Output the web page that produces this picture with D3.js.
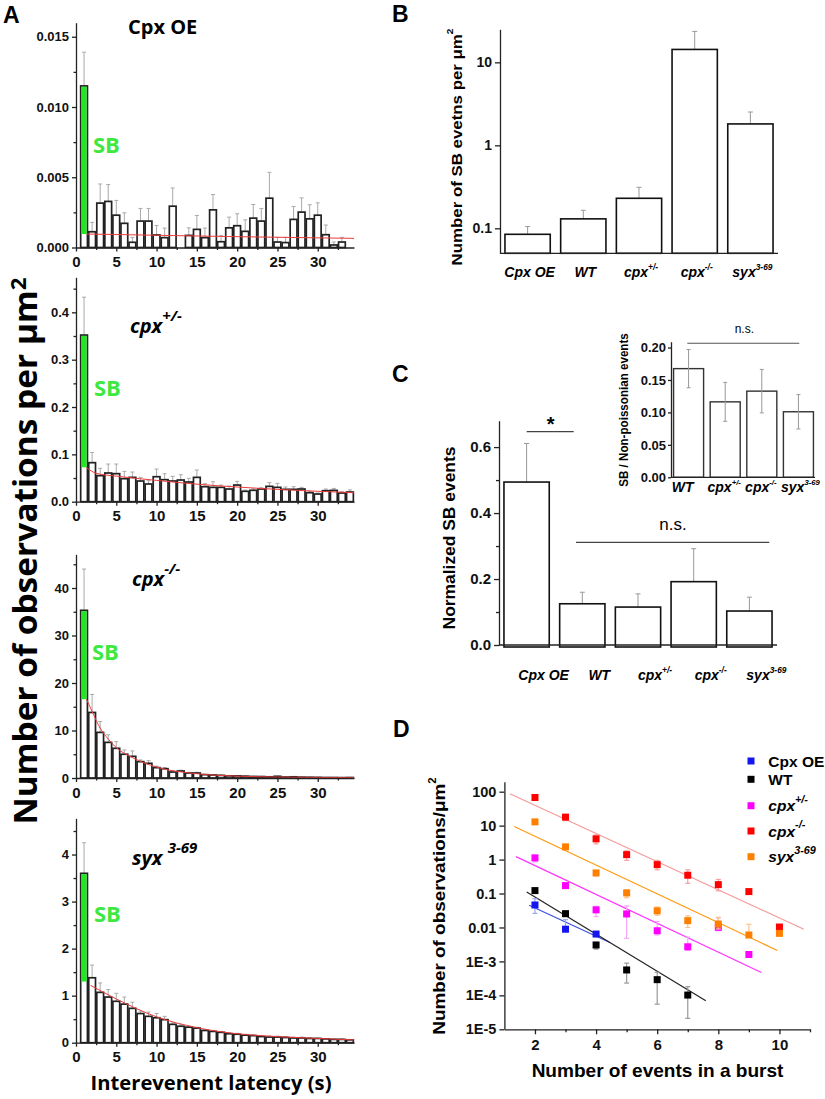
<!DOCTYPE html>
<html><head><meta charset="utf-8">
<script src="https://cdn.jsdelivr.net/npm/d3@7"></script>
<style>body{margin:0;background:#fff}</style>
</head><body><script>
// ---------------- DATA ----------------
const latency = [1,2,3,4,5,6,7,8,9,10,11,12,13,14,15,16,17,18,19,20,21,22,23,24,25,26,27,28,29,30,31,32,33,34];

const cpxOEVals = [0.0115,0.00112,0.00316,0.00328,0.0023,0.00172,0.00037,0.00188,0.00188,0.00089,0.0007,0.00294,0,0.00086,0.00129,0.0007,0.00268,0.00041,0.0014,0.00155,0.00115,0.00209,0.00188,0.00351,0.00039,0.00035,0.002,0.00252,0.00204,0.0023,0.00091,0.00018,0.00039,0];
const cpxOEErrTop = [0.0139,0.00179,0.00452,0.00448,0.00335,0.00247,0.00072,0.00278,0.00278,0.00157,0.00138,0.00424,0,0.0014,0.00228,0.00138,0.00377,0.00084,0.00216,0.0024,0.00197,0.00306,0.00278,0.00535,0.00072,0.00072,0.00292,0.00353,0.00304,0.00318,0.0016,0.00039,0.00072,0];
const cpxOEFit = [[1.3,0.00096],[10,0.00087],[20,0.00077],[34.5,0.00065]];

const cpxHetVals = [0.352,0.0824,0.055,0.0606,0.0592,0.0486,0.0514,0.0437,0.0374,0.0528,0.0465,0.0437,0.0458,0.0416,0.0514,0.0317,0.0303,0.0303,0.0268,0.0352,0.022,0.0241,0.0268,0.0324,0.0303,0.0261,0.0261,0.0268,0.019,0.0162,0.0232,0.0239,0.0183,0.0204];
const cpxHetErrTop = [0.432,0.104,0.0705,0.0796,0.0796,0.064,0.0627,0.0514,0.0444,0.069,0.0591,0.0535,0.057,0.0493,0.067,0.038,0.0422,0.0352,0.0331,0.043,0.0246,0.027,0.0296,0.0402,0.0387,0.031,0.0317,0.0303,0.0225,0.0185,0.0268,0.028,0.021,0.025];
const cpxHetFit = [[1.3,0.072],[2.5,0.06],[5,0.054],[10,0.045],[15,0.037],[20,0.031],[25,0.026],[30,0.022],[34.5,0.019]];

const cpxKOVals = [35.3,13.8,9.6,7.5,6.25,5.0,4.56,3.44,3.09,2.18,1.96,1.26,1.47,1.05,1.05,0.7,0.63,0.55,0.45,0.45,0.38,0.32,0.3,0.25,0.35,0.2,0.25,0.17,0.15,0.13,0.1,0.1,0.08,0.1];
const cpxKOErrTop = [44,17.6,11.9,9.1,7.65,5.9,5.7,3.8,3.65,2.5,2.2,1.45,1.65,1.2,1.2,0.8,0.72,0.62,0.52,0.5,0.42,0.36,0.34,0.28,0.4,0.23,0.28,0.2,0.17,0.15,0.12,0.12,0.1,0.12];
const cpxKOFit = [[1.3,16.6],[2,14],[3,10.5],[4,8.2],[5,6.4],[7,4.3],[10,2.3],[15,0.9],[20,0.4],[25,0.2],[30,0.12],[34.5,0.08]];

const syxVals = [3.6,1.38,1.07,0.97,0.88,0.82,0.73,0.62,0.56,0.53,0.49,0.39,0.35,0.33,0.31,0.26,0.24,0.22,0.19,0.18,0.16,0.15,0.13,0.12,0.12,0.11,0.1,0.1,0.09,0.09,0.08,0.07,0.07,0.06];
const syxErrTop = [4.25,1.65,1.27,1.13,1.05,0.97,0.86,0.67,0.65,0.62,0.56,0.42,0.38,0.35,0.33,0.28,0.26,0.24,0.21,0.2,0.18,0.17,0.15,0.14,0.14,0.13,0.12,0.12,0.11,0.1,0.09,0.08,0.08,0.07];
const syxFit = [[1.8,1.22],[5,0.93],[10,0.55],[15,0.32],[20,0.19],[25,0.13],[30,0.09],[34.5,0.06]];

const sbBase = [0.00096, 0.0726, 16.6, 1.3];   // white (fitted) part of the first bar
const latencyTicks = [0,5,10,15,20,25,30];
const latencyMinor = [2.5,7.5,12.5,17.5,22.5,27.5,32.5];

const genoBase = ["Cpx OE","WT","cpx","cpx","syx"];
const genoSup  = ["","","+/-","-/-","3-69"];
const genotypes = ["Cpx OE","WT","cpx+/-","cpx-/-","syx3-69"];

const sbCounts    = [0.0847,0.13,0.23,14.3,1.81];
const sbCountsErr = [0.105,0.165,0.312,23.6,2.52];
const sbTicks = [0.1,1,10];

const normSB    = [0.494,0.125,0.115,0.192,0.103];
const normSBErr = [0.611,0.16,0.155,0.292,0.145];
const normTicks = [0,0.2,0.4,0.6];
const normMinor = [0.1,0.3,0.5];

const insetGeno  = ["WT","cpx+/-","cpx-/-","syx3-69"];
const insetBase  = ["WT","cpx","cpx","syx"];
const insetSup   = ["","+/-","-/-","3-69"];
const insetRatio = [0.1675,0.1163,0.1328,0.101];
const insetErr   = [0.0295,0.030,0.0335,0.0265];
const insetTicks = [0,0.05,0.10,0.15,0.20];

const burstTicks = [2,4,6,8,10];
const obsTicks = [100,10,1,0.1,0.01,1e-3,1e-4,1e-5];
const obsTickLabels = ["100","10","1","0.1","0.01","1E-3","1E-4","1E-5"];

const dCpxOE_x = [2,3,4];
const dCpxOE_y = [0.046,0.0089,0.0064];
const dCpxOE_hi = [0.07,0.017,0.0072];
const dCpxOE_lo = [0.026,0.0075,0.0056];
const dCpxOE_fit = [[1.81,0.045],[4.45,0.0036]];

const dWT_x = [2,3,4,5,6,7];
const dWT_y = [0.122,0.0255,0.00305,0.00056,0.00029,0.000102];
const dWT_hi = [0.135,0.03,0.0036,0.00089,0.00048,0.00018];
const dWT_lo = [0.11,0.021,0.0023,0.00023,5.5e-5,2.1e-5];
const dWT_fit = [[1.73,0.111],[7.59,6.9e-5]];

const dHet_x = [2,3,4,5,6,7,8,9];
const dHet_y = [1.12,0.171,0.033,0.025,0.008,0.0027,0.0101,0.0016];
const dHet_hi = [1.35,0.19,0.042,0.043,0.015,0.0052,0.019,0.0018];
const dHet_lo = [0.85,0.15,0.021,0.0048,0.006,0.0021,0.008,0.0014];
const dHet_fit = [[1.38,1.22],[9.41,0.00047]];

const dKO_x = [2,3,4,5,6,7,8,9,10];
const dKO_y = [67.4,17.8,4.08,1.4,0.71,0.346,0.183,0.114,0.0103];
const dKO_hi = [72,20,5.3,1.8,0.95,0.5,0.26,0.12,0.011];
const dKO_lo = [60,14,2.9,0.95,0.5,0.2,0.12,0.1,0.0095];
const dKO_fit = [[1.18,86.7],[10.8,0.0089]];

const dSyx_x = [2,3,4,5,6,7,8,9,10];
const dSyx_y = [12.9,2.37,0.405,0.104,0.031,0.0159,0.0126,0.006,0.0067];
const dSyx_hi = [14,2.6,0.45,0.13,0.04,0.022,0.02,0.0124,0.0072];
const dSyx_lo = [11,2.0,0.33,0.075,0.023,0.01,0.009,0.0055,0.006];
const dSyx_fit = [[1.32,9.4],[9.93,0.0021]];

// ---------------- HELPERS ----------------
const W=825,H=1099;
const ARIAL = "'Liberation Sans', Arial, sans-serif";
const OPEN = "'Open Sans', 'Noto Sans', sans-serif";
const svg = d3.select("body").append("svg").attr("width",W).attr("height",H);

function rich(parent, x, y, base, sup, o){
  const t = parent.append("text").attr("x",x).attr("y",y)
    .attr("font-size",o.fs).attr("font-weight",o.fw||"bold")
    .attr("font-style",o.it?"italic":"normal")
    .attr("font-family",o.ff||ARIAL)
    .attr("text-anchor",o.anchor||"start").attr("fill",o.fill||"#000");
  t.append("tspan").text(base);
  if(sup){
    const rise = o.fs*(o.supRise||0.45);
    t.append("tspan").attr("dy",-rise).attr("dx",o.supDx||0)
      .attr("font-size",o.fs*(o.supScale||0.62)).text(sup);
  }
  return t;
}
function fitW(t, target){
  if(!target) return t;
  const w = t.node().getBBox().width;
  t.attr("transform",`scale(${target/w},1)`);
  return t;
}
function rotLabel(x,y,base,sup,o,target){
  const g = svg.append("g").attr("transform",`translate(${x},${y}) rotate(-90)`);
  const t = rich(g,0,0,base,sup,Object.assign({anchor:"middle"},o));
  fitW(t,target);
  return g;
}
function styleAxis(g, fs){
  g.attr("font-size",fs).attr("font-weight","bold").attr("font-family",ARIAL);
  g.select(".domain").attr("stroke","#222").attr("stroke-width",1.3);
  g.selectAll(".tick line").attr("stroke","#222").attr("stroke-width",1.3);
  g.selectAll(".tick text").attr("fill","#111");
}

// ---------------- PANEL A ----------------
const xA = d3.scaleLinear().domain([0,34.5]).range([76,354]);
const GREEN = "#22e622";
const histPanels = [
  {vals:cpxOEVals, err:cpxOEErrTop, fit:cpxOEFit, sb:sbBase[0], top:22.7, bottom:247.5, max:0.016,
   ticks:[0,0.005,0.010,0.015], minor:[0.0025,0.0075,0.0125], fmt:d3.format(".3f"),
   title:["Cpx OE",""], it:false, tpos:[128,34], sbpos:[93,153]},
  {vals:cpxHetVals, err:cpxHetErrTop, fit:cpxHetFit, sb:sbBase[1], top:277.3, bottom:501.7, max:0.474,
   ticks:[0,0.1,0.2,0.3,0.4], minor:[0.05,0.15,0.25,0.35,0.45], fmt:d3.format(".1f"),
   title:["cpx","+/-"], it:true, tpos:[130,333], sbpos:[94,396]},
  {vals:cpxKOVals, err:cpxKOErrTop, fit:cpxKOFit, sb:sbBase[2], top:554.3, bottom:778, max:47.1,
   ticks:[0,10,20,30,40], minor:[5,15,25,35,45], fmt:d3.format("d"),
   title:["cpx","-/-"], it:true, tpos:[132,586], sbpos:[92,660]},
  {vals:syxVals, err:syxErrTop, fit:syxFit, sb:sbBase[3], top:818.3, bottom:1042.7, max:4.77,
   ticks:[0,1,2,3,4], minor:[0.5,1.5,2.5,3.5,4.5], fmt:d3.format("d"),
   title:["syx ","3-69"], it:true, tpos:[132,865], sbpos:[94,922]}
];

histPanels.forEach(p=>{
  const y = d3.scaleLinear().domain([0,p.max]).range([p.bottom,p.top]);
  const g = svg.append("g");
  const bw = xA(0.84)-xA(0);
  latency.forEach((t,i)=>{
    if(!p.vals[i]) return;
    g.append("line").attr("x1",xA(t)).attr("x2",xA(t)).attr("y1",y(p.vals[i])).attr("y2",y(p.err[i]))
      .attr("stroke","#aaa").attr("stroke-width",1);
    g.append("line").attr("x1",xA(t)-2).attr("x2",xA(t)+2).attr("y1",y(p.err[i])).attr("y2",y(p.err[i]))
      .attr("stroke","#aaa").attr("stroke-width",1);
  });
  latency.forEach((t,i)=>{
    if(!p.vals[i]) return;
    g.append("rect").attr("x",xA(t)-bw/2).attr("width",bw)
      .attr("y",y(p.vals[i])).attr("height",y(0)-y(p.vals[i]))
      .attr("fill","#fff").attr("stroke","#222").attr("stroke-width",1.7);
    if(i===0){
      g.append("rect").attr("x",xA(t)-bw/2+0.8).attr("width",bw-1.6)
        .attr("y",y(p.vals[i])+0.8).attr("height",y(p.sb)-y(p.vals[i])-0.8)
        .attr("fill",GREEN);
    }
  });
  g.append("path").datum(p.fit)
    .attr("d",d3.line().x(d=>xA(d[0])).y(d=>y(d[1])).curve(d3.curveMonotoneX))
    .attr("fill","none").attr("stroke","#ee3b3b").attr("stroke-width",1);
  const ax = g.append("g").attr("transform",`translate(76,0)`)
    .call(d3.axisLeft(y).tickValues(p.ticks).tickFormat(p.fmt).tickSize(4).tickSizeOuter(0).tickPadding(3));
  styleAxis(ax,13);
  const axm = g.append("g").attr("transform",`translate(76,0)`)
    .call(d3.axisLeft(y).tickValues(p.minor.filter(v=>v<=p.max)).tickFormat("").tickSize(2.5).tickSizeOuter(0));
  styleAxis(axm,13); axm.select(".domain").remove();
  const bx = g.append("g").attr("transform",`translate(0,${p.bottom})`)
    .call(d3.axisBottom(xA).tickValues(latencyTicks).tickFormat(d3.format("d")).tickSize(4).tickSizeOuter(0).tickPadding(5));
  styleAxis(bx,15);
  const bxm = g.append("g").attr("transform",`translate(0,${p.bottom})`)
    .call(d3.axisBottom(xA).tickValues(latencyMinor).tickFormat("").tickSize(2.5).tickSizeOuter(0));
  styleAxis(bxm,15); bxm.select(".domain").remove();
  rich(g,p.tpos[0],p.tpos[1],p.title[0],p.title[1],{fs:20,ff:OPEN,it:p.it,supScale:0.75,supRise:0.62});
  g.append("text").attr("x",p.sbpos[0]).attr("y",p.sbpos[1]).text("SB")
    .attr("font-family",OPEN).attr("font-weight","bold").attr("font-size",22).attr("fill","#3ee83e");
});

rotLabel(37,551,"Number of observations per μm","2",{fs:33,ff:OPEN,supScale:0.66,supRise:0.32},547);
fitW(rich(svg.append("g").attr("transform","translate(211,1090)"),0,0,"Interevenent latency (s)","",{fs:19,ff:OPEN,anchor:"middle"}),241);

[["A",3,23],["B",392,22],["C",392,382],["D",393,737]].forEach(d=>{
  svg.append("text").attr("x",d[1]).attr("y",d[2]).text(d[0]).attr("font-family",ARIAL)
    .attr("font-weight","bold").attr("font-size",23);
});

// ---------------- PANEL B ----------------
(function(){
  const x = d3.scaleBand().domain(genotypes).range([500,778]).paddingInner(0.187).paddingOuter(0.089);
  const y = d3.scaleLog().domain([0.05,25]).range([253.3,29.3]);
  const g = svg.append("g");
  genotypes.forEach((k,i)=>{
    const cx = x(k)+x.bandwidth()/2;
    g.append("line").attr("x1",cx).attr("x2",cx).attr("y1",y(sbCounts[i])).attr("y2",y(sbCountsErr[i])).attr("stroke","#999");
    g.append("line").attr("x1",cx-2.5).attr("x2",cx+2.5).attr("y1",y(sbCountsErr[i])).attr("y2",y(sbCountsErr[i])).attr("stroke","#999");
    g.append("rect").attr("x",x(k)).attr("width",x.bandwidth()).attr("y",y(sbCounts[i]))
      .attr("height",253.3-y(sbCounts[i])).attr("fill","#fff").attr("stroke","#111").attr("stroke-width",1.6);
    rich(g,cx+2,276.5,genoBase[i],genoSup[i],{fs:14,it:true,anchor:"middle",supScale:0.6,supRise:0.5});
  });
  const ay = g.append("g").attr("transform","translate(500,0)")
    .call(d3.axisLeft(y).tickValues(sbTicks).tickFormat(d3.format("~g")).tickSize(5).tickSizeOuter(0).tickPadding(3));
  styleAxis(ay,14);
  g.append("line").attr("x1",500).attr("x2",778).attr("y1",253.3).attr("y2",253.3).attr("stroke","#222").attr("stroke-width",1.3);
  rotLabel(462,147,"Number of SB evetns per μm","2",{fs:15.5,supScale:0.6,supRise:0.55},237);
})();

// ---------------- PANEL C ----------------
(function(){
  const x = d3.scaleBand().domain(genotypes).range([499,777]).paddingInner(0.187).paddingOuter(0.089);
  const y = d3.scaleLinear().domain([0,0.68]).range([645,420.7]);
  const g = svg.append("g");
  genotypes.forEach((k,i)=>{
    const cx = x(k)+x.bandwidth()/2;
    g.append("line").attr("x1",cx).attr("x2",cx).attr("y1",y(normSB[i])).attr("y2",y(normSBErr[i])).attr("stroke","#999");
    g.append("line").attr("x1",cx-2.5).attr("x2",cx+2.5).attr("y1",y(normSBErr[i])).attr("y2",y(normSBErr[i])).attr("stroke","#999");
    g.append("rect").attr("x",x(k)).attr("width",x.bandwidth()).attr("y",y(normSB[i]))
      .attr("height",y(0)-y(normSB[i])+2).attr("fill","#fff").attr("stroke","#111").attr("stroke-width",1.6);
    rich(g,cx+17,680,genoBase[i],genoSup[i],{fs:14,it:true,anchor:"middle",supScale:0.6,supRise:0.5});
  });
  const ay = g.append("g").attr("transform","translate(499,0)")
    .call(d3.axisLeft(y).tickValues(normTicks).tickFormat(d3.format(".1f")).tickSize(5).tickSizeOuter(0).tickPadding(3));
  styleAxis(ay,15);
  const aym = g.append("g").attr("transform","translate(499,0)")
    .call(d3.axisLeft(y).tickValues(normMinor).tickFormat("").tickSize(3).tickSizeOuter(0));
  styleAxis(aym,15); aym.select(".domain").remove();
  g.append("line").attr("x1",499).attr("x2",777).attr("y1",645).attr("y2",645).attr("stroke","#222").attr("stroke-width",1.3);
  rotLabel(455,538,"Normalized SB events","",{fs:17},183);
  g.append("line").attr("x1",526.7).attr("x2",573.7).attr("y1",431.7).attr("y2",431.7).attr("stroke","#444").attr("stroke-width",1.2);
  g.append("text").attr("x",550.7).attr("y",431).attr("text-anchor","middle").text("*")
    .attr("font-family",ARIAL).attr("font-size",20).attr("font-weight","bold");
  g.append("line").attr("x1",576).attr("x2",769.3).attr("y1",542.3).attr("y2",542.3).attr("stroke","#444").attr("stroke-width",1.2);
  g.append("text").attr("x",673).attr("y",530).attr("text-anchor","middle").text("n.s.")
    .attr("font-family",ARIAL).attr("font-size",17);

  // inset
  const xi = d3.scaleBand().domain(insetGeno).range([671,816]).paddingInner(0.18).paddingOuter(0.07);
  const yi = d3.scaleLinear().domain([0,0.209]).range([477.3,341.7]);
  insetGeno.forEach((k,i)=>{
    const cx = xi(k)+xi.bandwidth()/2;
    g.append("rect").attr("x",xi(k)).attr("width",xi.bandwidth()).attr("y",yi(insetRatio[i]))
      .attr("height",yi(0)-yi(insetRatio[i])).attr("fill","#fff").attr("stroke","#333").attr("stroke-width",1.4);
    g.append("line").attr("x1",cx).attr("x2",cx).attr("y1",yi(insetRatio[i]-insetErr[i])).attr("y2",yi(insetRatio[i]+insetErr[i])).attr("stroke","#999");
    [insetRatio[i]-insetErr[i],insetRatio[i]+insetErr[i]].forEach(v=>
      g.append("line").attr("x1",cx-2).attr("x2",cx+2).attr("y1",yi(v)).attr("y2",yi(v)).attr("stroke","#999"));
    rich(g,cx+(i===0?-6:(i===3?2:-1)),491.7,insetBase[i],insetSup[i],{fs:14,it:true,anchor:"middle",supScale:0.55,supRise:0.5});
  });
  const ayi = g.append("g").attr("transform","translate(671,0)")
    .call(d3.axisLeft(yi).tickValues(insetTicks).tickFormat(d3.format(".2f")).tickSize(3).tickSizeOuter(0).tickPadding(2));
  styleAxis(ayi,13);
  g.append("line").attr("x1",671).attr("x2",815).attr("y1",477.3).attr("y2",477.3).attr("stroke","#222").attr("stroke-width",1.3);
  rotLabel(628,410,"SB / Non-poissonian events","",{fs:12},154);
  g.append("line").attr("x1",687.3).attr("x2",799.3).attr("y1",343.3).attr("y2",343.3).attr("stroke","#555").attr("stroke-width",1.1);
  g.append("text").attr("x",744.3).attr("y",332.7).attr("text-anchor","middle").text("n.s.")
    .attr("font-family",ARIAL).attr("font-size",12);
})();

// ---------------- PANEL D ----------------
(function(){
  const x = d3.scaleLinear().domain([1,11]).range([504.4,810]);
  const y = d3.scaleLog().domain([1e-5,197]).range([1029.3,781.7]);
  const g = svg.append("g");
  const series = [
    {name:"Cpx OE", sup:"", it:false, xs:dCpxOE_x, ys:dCpxOE_y, hi:dCpxOE_hi, lo:dCpxOE_lo, fit:dCpxOE_fit, c:"#1515f0", lc:"#3a4fe0", ec:"#9aa6f0"},
    {name:"WT", sup:"", it:false, xs:dWT_x, ys:dWT_y, hi:dWT_hi, lo:dWT_lo, fit:dWT_fit, c:"#000", lc:"#222", ec:"#999"},
    {name:"cpx", sup:"+/-", it:true, xs:dHet_x, ys:dHet_y, hi:dHet_hi, lo:dHet_lo, fit:dHet_fit, c:"#ff00ff", lc:"#ff33ff", ec:"#f7a6f7"},
    {name:"cpx", sup:"-/-", it:true, xs:dKO_x, ys:dKO_y, hi:dKO_hi, lo:dKO_lo, fit:dKO_fit, c:"#ff0000", lc:"#f59a9a", ec:"#f5a0a0"},
    {name:"syx", sup:"3-69", it:true, xs:dSyx_x, ys:dSyx_y, hi:dSyx_hi, lo:dSyx_lo, fit:dSyx_fit, c:"#ff8000", lc:"#ff9a10", ec:"#fcc48a"}
  ];
  const line = d3.line().x(d=>x(d[0])).y(d=>y(d[1]));
  series.forEach(s=>{
    g.append("path").datum(s.fit).attr("d",line).attr("fill","none").attr("stroke",s.lc).attr("stroke-width",1.2);
  });
  series.forEach(s=>{
    s.xs.forEach((xv,i)=>{
      const cx=x(xv);
      g.append("line").attr("x1",cx).attr("x2",cx).attr("y1",y(s.lo[i])).attr("y2",y(s.hi[i])).attr("stroke",s.ec).attr("stroke-width",1.2);
      [s.lo[i],s.hi[i]].forEach(v=>g.append("line").attr("x1",cx-2.5).attr("x2",cx+2.5).attr("y1",y(v)).attr("y2",y(v)).attr("stroke",s.ec).attr("stroke-width",1.2));
      g.append("rect").attr("x",cx-3.5).attr("y",y(s.ys[i])-3.5).attr("width",7).attr("height",7).attr("fill",s.c);
    });
  });
  const ay = g.append("g").attr("transform","translate(504.4,0)")
    .call(d3.axisLeft(y).tickValues(obsTicks).tickFormat((d,i)=>obsTickLabels[i]).tickSize(5).tickSizeOuter(0).tickPadding(3));
  styleAxis(ay,14.5);
  const ax = g.append("g").attr("transform","translate(0,1029.3)")
    .call(d3.axisBottom(x).tickValues(burstTicks).tickFormat(d3.format("d")).tickSize(5).tickSizeOuter(0).tickPadding(5));
  styleAxis(ax,15);
  const axm = g.append("g").attr("transform","translate(0,1029.3)")
    .call(d3.axisBottom(x).tickValues([3,5,7,9,11]).tickFormat("").tickSize(3).tickSizeOuter(0));
  styleAxis(axm,15); axm.select(".domain").remove();
  rotLabel(445,906,"Number of observations/μm","2",{fs:17,supScale:0.6,supRise:0.55},258);
  fitW(rich(g.append("g").attr("transform","translate(657.5,1076.7)"),0,0,"Number of events in a burst","",{fs:18,anchor:"middle"}),252);
  const ly = [761,779.3,805.7,831,856.7];
  series.forEach((s,i)=>{
    g.append("rect").attr("x",747.5).attr("y",ly[i]-3.5).attr("width",7).attr("height",7).attr("fill",s.c);
    rich(g,768.3,ly[i]+5.5,s.name,s.sup,{fs:15.5,it:s.it,supScale:0.7,supRise:0.55});
  });
})();
</script></body></html>
